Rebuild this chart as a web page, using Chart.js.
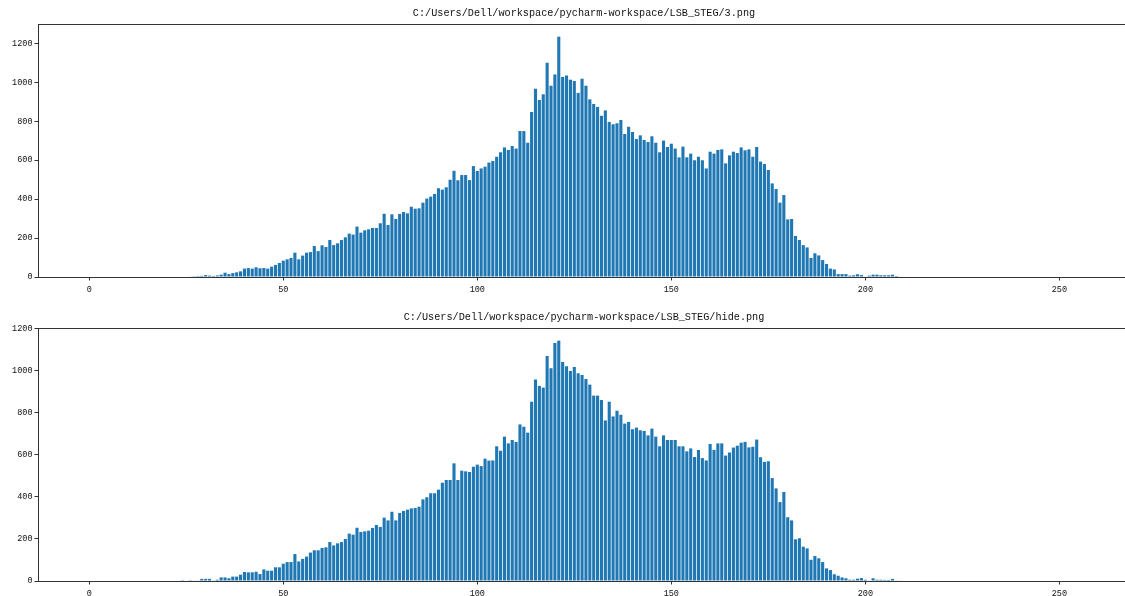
<!DOCTYPE html>
<html>
<head>
<meta charset="utf-8">
<script src="https://cdn.jsdelivr.net/npm/chart.js@4.4.1/dist/chart.umd.min.js"></script>
<style>
  body { margin: 0; background: #fff; overflow: hidden; width: 1125px; height: 596px; position: relative; }
  canvas { position: absolute; left: 0; }
  #top { top: 0; }
  #bottom { top: 304px; }
</style>
</head>
<body>
<canvas id="top" width="1132" height="300"></canvas>
<canvas id="bottom" width="1132" height="292"></canvas>
<script>

// histogram of gray levels, original image and image with hidden data
var topTitle = "C:/Users/Dell/workspace/pycharm-workspace/LSB_STEG/3.png";
var bottomTitle = "C:/Users/Dell/workspace/pycharm-workspace/LSB_STEG/hide.png";

var xTicks = [0, 50, 100, 150, 200, 250];
var yTicks = [0, 200, 400, 600, 800, 1000, 1200];

var origCounts = [
  0,0,0,0,0,0,0,0,0,0,
  0,0,0,0,0,0,0,0,0,0,
  0,0,0,0,0,0,2,4,5,6,
  10,7,5,8,12,22,15,20,24,29,
  43,46,43,50,45,46,43,53,62,72,
  84,91,98,125,91,110,125,128,159,133,
  163,154,190,164,173,190,204,223,218,259,
  228,240,245,252,252,276,325,267,322,298,
  324,334,327,361,351,353,382,403,413,427,
  456,449,461,500,546,497,524,524,498,570,
  545,558,567,588,596,618,641,666,653,673,
  660,750,750,690,848,968,910,939,1101,983,
  1041,1235,1028,1036,1014,1007,946,1019,983,913,
  889,874,829,856,797,785,790,807,735,772,
  745,709,728,704,694,723,690,641,701,668,
  685,660,615,670,615,634,600,618,600,558,
  644,634,653,656,584,625,644,637,666,651,
  656,618,668,593,581,550,481,452,382,421,
  296,298,211,190,164,152,98,122,111,87,
  67,43,39,15,15,15,7,9,14,10,
  2,7,12,12,9,9,9,12,5,3,
  0,0,0,0,0,0,0,0,0,0,
  0,0,0,0,0,0,0,0,0,0,
  0,0,0,0,0,0,0,0,0,0,
  0,0,0,0,0,0,0,0,0,0,
  0,0,0,0,0,0
];

var hideCounts = [
  0,0,0,0,0,0,0,0,0,0,
  0,0,0,0,0,0,0,0,0,0,
  0,0,0,0,1,0,1,2,3,10,
  10,10,3,6,17,17,13,21,21,30,
  43,41,41,44,33,55,49,49,65,65,
  82,90,90,128,93,105,116,135,146,146,
  157,160,185,169,179,185,200,225,220,253,
  233,236,239,252,266,257,301,288,329,288,
  323,333,339,345,347,353,388,398,417,417,
  434,467,480,480,559,480,524,521,518,543,
  553,546,581,572,573,640,619,686,654,670,
  661,744,733,705,852,957,927,919,1069,1011,
  1131,1142,1041,1020,998,1017,987,979,960,933,
  881,881,860,763,852,782,809,790,748,756,
  721,729,716,713,692,724,686,640,692,670,
  670,670,640,640,616,630,589,623,584,573,
  651,623,654,654,596,611,634,643,657,661,
  635,638,672,588,566,569,489,440,375,423,
  303,288,198,203,163,155,101,119,108,90,
  60,52,32,25,17,13,6,6,11,14,
  6,3,13,6,6,5,5,10,3,2,
  0,0,0,0,0,0,0,0,0,0,
  0,0,0,0,0,0,0,0,0,0,
  0,0,0,0,0,0,0,0,0,0,
  0,0,0,0,0,0,0,0,0,0,
  0,0,0,0,0,0
];

var grayLevels = origCounts.map(function(c, i){ return i; });

// matplotlib style box around the plot
var framePlugin = {
  id: 'frame',
  afterDraw: function(chart){
    var a = chart.chartArea, ctx = chart.ctx;
    ctx.save();
    ctx.strokeStyle = '#333';
    ctx.lineWidth = 1;
    ctx.strokeRect(Math.round(a.left) + 0.5, Math.round(a.top) + 0.5,
                   Math.round(a.right - a.left), Math.round(a.bottom - a.top));
    ctx.restore();
  }
};

function plainLabel(value){ return String(value); }

function makeChart(id, title, counts, yMax, xAxisHeight){
  var ctx = document.getElementById(id).getContext('2d');
  return new Chart(ctx, {
    type: 'bar',
    data: {
      datasets: [{
        data: grayLevels.map(function(g, i){ return {x: g, y: counts[i]}; }),
        backgroundColor: '#1f77b4',
        borderWidth: 0,
        barPercentage: 0.8,
        categoryPercentage: 1.0
      }]
    },
    plugins: [framePlugin],
    options: {
      responsive: false,
      animation: false,
      devicePixelRatio: 1,
      layout: { padding: { left: 0, right: 2, top: 0, bottom: 0 } },
      plugins: {
        legend: { display: false },
        tooltip: { enabled: false },
        title: {
          display: true,
          text: title,
          fullSize: false,
          color: '#111',
          font: { family: 'Liberation Mono', size: 10.2, weight: 'normal' },
          padding: { top: 7, bottom: 4.8 }
        }
      },
      scales: {
        x: {
          type: 'linear',
          min: -13.2,
          max: 268.2,
          offset: false,
          afterBuildTicks: function(scale){
            scale.ticks = xTicks.map(function(v){ return {value: v}; });
          },
          afterFit: function(scale){ scale.height = xAxisHeight; },
          border: { display: false },
          grid: { display: true, offset: false, drawOnChartArea: false, drawTicks: true, tickLength: 3.5, color: '#333' },
          ticks: {
            color: '#111',
            padding: 4,
            maxRotation: 0,
            callback: plainLabel,
            font: { family: 'Liberation Mono', size: 8.5 }
          }
        },
        y: {
          min: 0,
          max: yMax,
          afterBuildTicks: function(scale){
            scale.ticks = yTicks.map(function(v){ return {value: v}; });
          },
          afterFit: function(scale){ scale.width = 38; },
          border: { display: false },
          grid: { display: true, drawOnChartArea: false, drawTicks: true, tickLength: 3.5, color: '#333' },
          ticks: {
            color: '#111',
            padding: 2,
            callback: plainLabel,
            font: { family: 'Liberation Mono', size: 8.5 }
          }
        }
      }
    }
  });
}

makeChart('top', topTitle, origCounts, 1300, 23);
makeChart('bottom', bottomTitle, hideCounts, 1202, 15);

</script>
</body>
</html>
